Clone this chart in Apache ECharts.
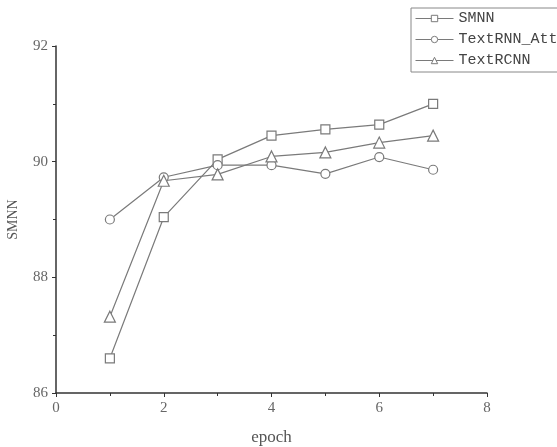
<!DOCTYPE html>
<html lang="en">
<head>
    <meta charset="UTF-8">
    <title>epoch</title>
    <script src="https://cdn.jsdelivr.net/npm/echarts@6/dist/echarts.min.js"></script>
    <style>
        html, body {margin: 0; padding: 0; background: #fff;}
        #main {width: 557px; height: 447px;}
    </style>
</head>
<body>
<div id="main"></div>
<script>
    // data
    var epochs = [1, 2, 3, 4, 5, 6, 7];
    var smnn = [86.6, 89.04, 90.04, 90.45, 90.56, 90.64, 91.0];
    var textRnnAtt = [89.0, 89.73, 89.94, 89.94, 89.79, 90.08, 89.86];
    var textRcnn = [87.32, 89.67, 89.78, 90.09, 90.16, 90.33, 90.45];

    var chart = echarts.init(document.getElementById('main'));

    function pairs(ys) {
        var out = [];
        for (var i = 0; i < epochs.length; i++) {
            out.push([epochs[i], ys[i]]);
        }
        return out;
    }

    function line(name, symbol, ys) {
        return {
            name: name,
            type: 'line',
            data: pairs(ys),
            symbol: symbol,
            symbolSize: symbol === 'triangle' ? 11 : 9,
            showAllSymbol: true,
            lineStyle: {color: '#7a7a7a', width: 1.2},
            itemStyle: {color: '#fff', borderColor: '#7a7a7a', borderWidth: 1.2},
            emphasis: {disabled: true},
            z: 3
        };
    }

    var axisFont = {fontFamily: 'Liberation Serif', fontSize: 15, color: '#666'};

    chart.setOption({
        animation: false,
        backgroundColor: '#fff',
        grid: {left: 56, right: 70, top: 46, bottom: 54, outerBoundsMode: 'none', containLabel: false},
        legend: {
            orient: 'vertical',
            left: 411,
            top: 8,
            padding: [3, 40, 4, 4],
            itemWidth: 38,
            itemHeight: 8,
            itemGap: 6,
            borderColor: '#888',
            borderWidth: 1,
            lineStyle: {width: 1},
            itemStyle: {borderWidth: 1},
            textStyle: {fontFamily: 'Liberation Mono', fontSize: 15, color: '#444'},
            data: ['SMNN', 'TextRNN_Att', 'TextRCNN']
        },
        xAxis: {
            type: 'value',
            min: 0,
            max: 8,
            interval: 2,
            name: 'epoch',
            nameLocation: 'middle',
            nameGap: 36,
            nameTextStyle: {fontFamily: 'Liberation Serif', fontSize: 17, color: '#555'},
            axisLine: {show: true, lineStyle: {color: '#333', width: 1.5}},
            axisTick: {show: true, length: 4, lineStyle: {color: '#333'}},
            minorTick: {show: true, splitNumber: 2, length: 3, lineStyle: {color: '#333'}},
            splitLine: {show: false},
            axisLabel: Object.assign({margin: 8}, axisFont)
        },
        yAxis: {
            type: 'value',
            min: 86,
            max: 92,
            interval: 2,
            name: 'SMNN',
            nameLocation: 'middle',
            nameGap: 36,
            nameTextStyle: {fontFamily: 'Liberation Serif', fontSize: 14, color: '#555'},
            axisLine: {show: true, lineStyle: {color: '#333', width: 1.5}},
            axisTick: {show: true, length: 4, lineStyle: {color: '#333'}},
            minorTick: {show: true, splitNumber: 2, length: 3, lineStyle: {color: '#333'}},
            splitLine: {show: false},
            axisLabel: Object.assign({margin: 8}, axisFont)
        },
        series: [
            line('SMNN', 'rect', smnn),
            line('TextRNN_Att', 'circle', textRnnAtt),
            line('TextRCNN', 'triangle', textRcnn)
        ]
    });
</script>
</body>
</html>
